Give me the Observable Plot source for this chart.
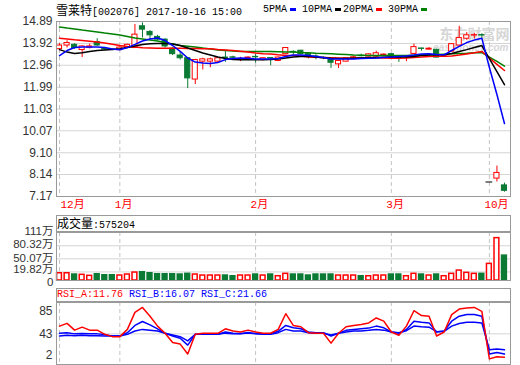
<!DOCTYPE html>
<html><head><meta charset="utf-8">
<script src="https://cdn.jsdelivr.net/npm/d3@7"></script>
<script src="https://cdn.jsdelivr.net/npm/@observablehq/plot@0.6"></script>
<style>
body{margin:0;background:#fff;}
#wrap{position:relative;width:520px;height:365px;overflow:hidden;background:#fff;}
.abs{position:absolute;white-space:pre;line-height:14px;color:#000;}
.mono{font-family:"Liberation Mono","DejaVu Sans Mono",monospace;font-size:10px;}
.cjk{font-family:"Noto Sans CJK SC",sans-serif;font-size:12px;}
.box{position:absolute;border:1px solid #999;box-sizing:border-box;}
.dash{display:inline-block;width:6px;height:3px;vertical-align:middle;margin-left:3px;}
svg{display:block;}
</style></head>
<body>
<div id="wrap">
  <div id="main" class="abs" style="left:0;top:0;"></div>
  <div id="vol" class="abs" style="left:0;top:215px;"></div>
  <div id="rsi" class="abs" style="left:0;top:288px;"></div>
  <div class="box" style="left:56px;top:215px;width:455px;height:17px;"></div>
  <div class="box" style="left:56px;top:288px;width:455px;height:14px;"></div>
  <div id="title" class="abs" style="left:56px;top:3px;"></div>
  <div id="legend"></div>
  <div id="volhead" class="abs" style="left:57px;top:216px;"></div>
  <div id="rsihead" class="abs mono" style="left:57px;top:288px;line-height:13px;"></div>
</div>
<script>
// ---- data ----
const stockName = "雪莱特";
const stockCode = "[002076] 2017-10-16 15:00";
const maNames = ["5PMA", "10PMA", "20PMA", "30PMA"];
const maColors = ["#0000ff", "#000000", "#ff0000", "#008000"];
const volLabel = "成交量";
const lastVolume = "575204";
const rsiNames = ["RSI_A", "RSI_B", "RSI_C"];
const rsiLast = ["11.76", "16.07", "21.66"];

const opens = [13.67,13.83,13.86,13.63,13.73,13.98,13.68,13.66,13.63,13.72,
  13.72,14.68,14.43,14.21,14.09,13.69,13.39,13.27,12.33,13.12,
  13.12,13.12,13.30,13.31,13.22,13.28,13.33,13.19,13.28,13.15,
  13.45,13.55,13.60,13.45,13.35,13.29,13.27,13.00,13.12,13.29,
  13.38,13.34,13.34,13.40,13.45,13.29,13.32,13.46,13.70,13.65,
  13.64,13.33,13.56,13.83,14.13,14.27,14.29,7.81,7.96,7.66];
const closes = [13.83,13.94,13.72,13.79,13.79,13.83,13.66,13.64,13.74,13.86,
  14.31,14.53,14.28,14.09,13.79,13.45,13.27,12.38,13.19,13.22,
  13.22,13.27,13.28,13.29,13.24,13.30,13.31,13.27,13.26,13.30,
  13.72,13.53,13.45,13.34,13.33,13.27,13.07,13.15,13.27,13.31,
  13.36,13.44,13.49,13.43,13.35,13.27,13.34,13.76,13.68,13.69,
  13.30,13.35,13.89,14.16,14.28,14.29,14.27,7.81,8.21,7.42];
const highs = [13.91,14.04,13.91,13.81,13.89,14.13,13.71,13.68,13.78,13.89,
  14.76,14.83,14.49,14.28,14.13,13.74,13.54,13.30,13.22,13.27,
  13.27,13.30,13.56,13.36,13.31,13.33,13.45,13.27,13.30,13.32,
  13.74,13.60,13.62,13.47,13.42,13.33,13.28,13.17,13.30,13.36,
  13.45,13.47,13.58,13.46,13.47,13.31,13.36,13.89,13.71,13.74,
  13.67,13.38,13.91,14.68,14.40,14.37,14.35,7.81,8.51,7.76];
const lows = [13.62,13.72,13.66,13.30,13.68,13.80,13.62,13.60,13.60,13.70,
  13.70,14.16,14.09,14.04,13.72,13.39,13.19,11.93,12.11,12.75,
  12.85,13.08,13.09,13.24,13.12,13.26,13.05,13.15,12.94,13.12,
  13.42,13.42,13.42,13.24,13.20,13.21,12.82,12.82,13.10,13.27,
  13.33,13.32,13.32,13.38,13.33,13.09,13.12,13.44,13.58,13.62,
  13.28,13.30,13.54,13.80,14.06,14.12,14.12,7.81,7.81,7.36];
const ma5 = [13.39,13.61,13.74,13.76,13.76,13.76,13.74,13.68,13.64,13.74,
  13.88,14.03,14.12,14.16,14.05,13.83,13.57,13.28,13.10,13.06,
  13.04,13.08,13.21,13.26,13.28,13.27,13.24,13.24,13.24,13.26,
  13.35,13.41,13.41,13.39,13.35,13.30,13.24,13.24,13.24,13.24,
  13.26,13.27,13.28,13.30,13.32,13.35,13.37,13.41,13.46,13.47,
  13.43,13.42,13.61,13.79,13.96,14.07,14.15,12.86,11.67,10.39];
const ma10 = [13.65,13.54,13.48,13.51,13.57,13.61,13.63,13.65,13.69,13.74,
  13.81,13.88,13.91,13.92,13.92,13.90,13.83,13.72,13.61,13.50,
  13.41,13.32,13.26,13.21,13.20,13.20,13.20,13.20,13.21,13.24,
  13.28,13.32,13.35,13.36,13.32,13.29,13.27,13.26,13.26,13.27,
  13.28,13.29,13.30,13.31,13.32,13.32,13.32,13.35,13.39,13.41,
  13.42,13.42,13.48,13.57,13.65,13.74,13.83,13.25,12.68,12.10];
const ma20 = [14.15,14.12,14.08,14.05,14.02,13.99,13.94,13.89,13.83,13.79,
  13.76,13.73,13.72,13.71,13.71,13.71,13.71,13.70,13.70,13.69,
  13.69,13.65,13.63,13.61,13.58,13.54,13.50,13.47,13.46,13.42,
  13.39,13.39,13.37,13.32,13.31,13.30,13.29,13.28,13.27,13.28,
  13.29,13.29,13.29,13.28,13.27,13.27,13.28,13.30,13.32,13.35,
  13.36,13.36,13.37,13.41,13.46,13.51,13.57,13.28,13.00,12.73];
const ma30 = [14.65,14.60,14.56,14.51,14.47,14.43,14.38,14.34,14.29,14.23,
  14.16,14.12,14.07,14.03,13.96,13.90,13.83,13.80,13.77,13.72,
  13.68,13.63,13.61,13.59,13.57,13.57,13.57,13.57,13.57,13.56,
  13.54,13.54,13.52,13.51,13.49,13.48,13.47,13.45,13.43,13.41,
  13.40,13.39,13.39,13.39,13.39,13.39,13.39,13.40,13.41,13.42,
  13.43,13.45,13.47,13.48,13.49,13.51,13.52,13.32,13.13,12.92];
// volume, in 万 (10k lots)
const volumes = [16.8,16.8,13.8,13.1,10.8,14.5,12.2,12.2,11.5,13.8,
  18.4,19.1,16.8,14.5,14.5,14.5,13.8,15.4,13.8,11.5,
  11.5,11.5,11.5,9.9,11.5,11.5,13.8,11.5,13.8,9.9,
  15.4,13.8,13.8,11.5,13.8,13.8,13.8,11.5,11.5,11.5,
  9.9,9.9,11.5,11.5,13.8,13.8,9.9,15.4,13.8,11.5,
  13.8,9.9,15.4,23,17.7,15.4,15.4,38.4,98,57.52];
const rsiA = [53.4,57,48,52,48,48,42.4,39.3,39.3,49,
  71.8,78.4,66.6,53.4,43.8,31.4,29.3,16.1,42.4,43.8,
  43.8,43.8,49.8,46.8,45.5,48,45.5,43.8,43.8,49,
  70,54.3,52.5,44.6,43.8,43.8,30.6,43.8,52.5,54.3,
  55.6,57.7,64.3,60,45.5,41.1,53.4,74,67.5,66.6,
  40.2,45.5,68.8,76.2,77.5,78.4,73.1,9.5,12.5,11.76];
const rsiB = [43.8,44.5,43,43.5,43,43,42,40.2,40.2,44.6,
  54.3,59.6,55.1,49.8,43.8,40.2,37.2,28,42.4,42.4,
  42.6,42.6,45.5,44,43.5,45,43.5,43,43,46.4,
  54.3,51.1,49.8,45.5,44.6,44.6,40.2,43.8,47.7,49,
  49.8,50.7,53.4,51.1,45.5,43.8,49,60,58.7,57.7,
  45.5,46.8,60,66.6,68.8,68.8,66.6,16.1,18.2,16.07];
const rsiC = [40.2,41,40.5,41,40.5,40.5,40.2,40,40,42.4,
  46.8,49,48,46.8,43.8,41.5,39.3,33.6,42.4,42.4,
  42.6,42.6,44,43.3,43,44,43,42.4,42.4,44.6,
  49,46.8,46.8,44.6,43.8,43.8,41.5,43.8,45.5,46.8,
  46.8,47.7,49,48,45.5,44.6,47.3,53.4,52.5,52,
  46,46.4,53.4,56.9,58.6,58.6,57.7,21.8,22.7,21.66];
const priceTicks = [14.89,13.92,12.96,11.99,11.03,10.07,9.10,8.14,7.17];
const volTicks = [0,19.82,50.07,80.32,111];
const volTickLabels = ["0","19.82万","50.07万","80.32万","111万"];
const rsiTicks = [85,43,2];
const monthLabels = ["12月","1月","2月","3月","10月"];
const monthStarts = [0,8,26,44,57];

// ---- build ----
const rows = opens.map((o,i)=>({i, o, c:closes[i], h:highs[i], l:lows[i], v:volumes[i],
  ma5:ma5[i], ma10:ma10[i], ma20:ma20[i], ma30:ma30[i], ra:rsiA[i], rb:rsiB[i], rc:rsiC[i]}));
const months = monthStarts.map((s,k)=>({s, label:monthLabels[k]}));
const volLabelRows = volTicks.map((t,k)=>({t, label:volTickLabels[k]}));
const RED="#ff0000", GREEN="#0b7a34", BLUE="#0000ff", GRID="#d4d4d4", FRAME="#9a9a9a";
const candleColor = d => d.c > d.o ? RED : d.c < d.o ? GREEN : "#000000";
const xDomain = [-0.4, 59.8];
const FONT = "'Liberation Sans','Noto Sans CJK SC',sans-serif";
const MONO = "'Liberation Mono','Noto Sans CJK SC',monospace";
const common = {width:520, marginLeft:56, marginRight:10,
  x:{domain:xDomain, axis:null},
  style:{background:"transparent", fontFamily:FONT, fontSize:"12px", overflow:"visible"}};
const monthRule = () => Plot.ruleX(monthStarts, {x:d=>d, stroke:"#c4c4c4", strokeDasharray:"4,3"});

const main = Plot.plot({...common, height:215, marginTop:21, marginBottom:19,
  y:{domain:[7.17,14.89], axis:null},
  marks:[
    Plot.gridY(priceTicks, {stroke:GRID, strokeOpacity:1}),
    monthRule(),
    Plot.text(["东方财富网"], {frameAnchor:"top-right", text:d=>d, textAnchor:"end", dx:-1, dy:8, fontSize:14, fontWeight:"bold", fill:"#d6d6d6"}),
    Plot.text(["eastmoney.com"], {frameAnchor:"top-right", text:d=>d, textAnchor:"end", dx:-2, dy:22, fontSize:10, fontWeight:"bold", fontStyle:"italic", fill:"#d6d6d6"}),
    Plot.ruleX(rows, {x:"i", y1:"l", y2:"h", stroke:candleColor}),
    Plot.rect(rows, {x1:d=>d.i-0.34, x2:d=>d.i+0.34, y1:"o", y2:"c",
      fill:d=>d.c>d.o ? "#ffffff" : candleColor(d), stroke:candleColor}),
    Plot.ruleY(rows.filter(d=>d.c===d.o), {y:"o", x1:d=>d.i-0.45, x2:d=>d.i+0.45, stroke:"#000"}),
    Plot.line(rows, {x:"i", y:"ma30", stroke:maColors[3]}),
    Plot.line(rows, {x:"i", y:"ma20", stroke:maColors[2]}),
    Plot.line(rows, {x:"i", y:"ma10", stroke:maColors[1]}),
    Plot.line(rows, {x:"i", y:"ma5", stroke:maColors[0]}),
    Plot.frame({stroke:FRAME}),
    Plot.text(priceTicks, {y:d=>d, text:d=>d.toFixed(2), frameAnchor:"left", textAnchor:"end", dx:-4, fill:"#333", fontSize:12}),
    Plot.text(months.slice(0,1), {x:"s", text:"label", frameAnchor:"bottom", textAnchor:"start", dx:1, dy:11, fill:RED, fontSize:11, fontFamily:MONO}),
    Plot.text(months.slice(1), {x:"s", text:"label", frameAnchor:"bottom", textAnchor:"start", dx:-5, dy:11, fill:RED, fontSize:11, fontFamily:MONO})
  ]});
document.getElementById("main").append(main);

const volText = (rowsSel, dy) => Plot.text(rowsSel, {y:"t", text:"label", frameAnchor:"left", textAnchor:"end", dx:-3, dy, fill:"#333", fontSize:11.5});
const vol = Plot.plot({...common, height:66, marginTop:17, marginBottom:1,
  y:{domain:[0,111], axis:null},
  marks:[
    Plot.gridY(volTicks.slice(1,4), {stroke:GRID, strokeOpacity:1}),
    monthRule(),
    Plot.rectY(rows, {x1:d=>d.i-0.32, x2:d=>d.i+0.32, y:"v",
      fill:d=>d.c>=d.o ? "#ffffff" : GREEN, stroke:d=>d.c>=d.o ? RED : GREEN, strokeWidth:1.5}),
    Plot.frame({stroke:FRAME}),
    volText(volLabelRows.slice(2), -1),
    volText(volLabelRows.slice(1,2), -3),
    volText(volLabelRows.slice(0,1), 1.5)
  ]});
document.getElementById("vol").append(vol);

const rsi = Plot.plot({...common, height:77, marginTop:14, marginBottom:1,
  y:{domain:[2,85], axis:null},
  marks:[
    Plot.gridY([rsiTicks[1]], {stroke:GRID, strokeOpacity:1}),
    monthRule(),
    Plot.line(rows, {x:"i", y:"rc", stroke:BLUE}),
    Plot.line(rows, {x:"i", y:"rb", stroke:BLUE}),
    Plot.line(rows, {x:"i", y:"ra", stroke:RED}),
    Plot.frame({stroke:FRAME}),
    Plot.text([rsiTicks[0]], {y:d=>d, text:d=>String(d), frameAnchor:"left", textAnchor:"end", dx:-4, dy:9, fill:"#333", fontSize:12}),
    Plot.text([rsiTicks[1]], {y:d=>d, text:d=>String(d), frameAnchor:"left", textAnchor:"end", dx:-4, fill:"#333", fontSize:12}),
    Plot.text([rsiTicks[2]], {y:d=>d, text:d=>String(d), frameAnchor:"left", textAnchor:"end", dx:-4, dy:-9, fill:"#333", fontSize:12})
  ]});
document.getElementById("rsi").append(rsi);

// ---- header texts ----
document.getElementById("title").innerHTML =
  `<span class="cjk">${stockName}</span><span class="mono">${stockCode}</span>`;
const legendLefts = [263, 302, 343, 388];
document.getElementById("legend").innerHTML = maNames.map((n,k)=>
  `<div class="abs mono" style="left:${legendLefts[k]}px;top:3px;line-height:14px;font-size:10px;">${n}<span class="dash" style="background:${maColors[k]}"></span></div>`).join("");
document.getElementById("volhead").innerHTML =
  `<span class="cjk">${volLabel}</span><span class="mono">:${lastVolume}</span>`;
const rsiColors = [RED, BLUE, BLUE];
document.getElementById("rsihead").innerHTML = rsiNames.map((n,k)=>
  `<span style="color:${rsiColors[k]}">${n}:${rsiLast[k]}</span>`).join(" ");
</script>
</body></html>
